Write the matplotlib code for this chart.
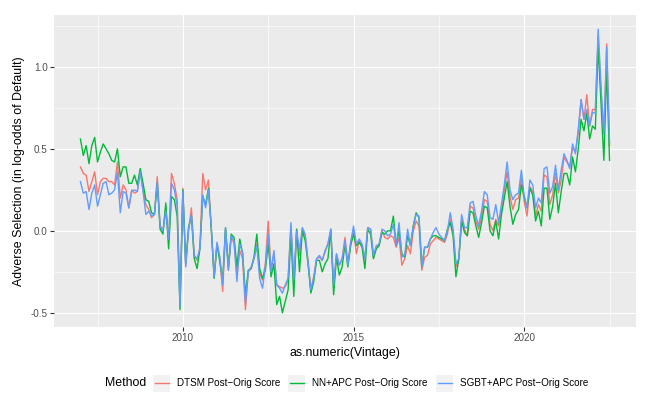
import matplotlib
matplotlib.use("Agg")
import matplotlib.pyplot as plt
from matplotlib.patches import Rectangle
from matplotlib.lines import Line2D
import numpy as np

plt.rcParams['font.family'] = ['Liberation Sans', 'DejaVu Sans']
plt.rcParams['axes.unicode_minus'] = False

start_year = 2007
methods = ["DTSM Post\u2212Orig Score", "NN+APC Post\u2212Orig Score", "SGBT+APC Post\u2212Orig Score"]
colors = ["#F8766D", "#00BA38", "#619CFF"]

dtsm = [
    0.39, 0.35, 0.34, 0.24, 0.30, 0.36, 0.22, 0.30, 0.32, 0.32, 0.30, 0.30,
    0.28, 0.42, 0.20, 0.28, 0.25, 0.14, 0.25, 0.23, 0.24, 0.37, 0.25, 0.16,
    0.13, 0.08, 0.10, 0.33, 0.03, 0.00, 0.14, -0.06, 0.35, 0.29, 0.19, -0.45,
    0.26, -0.21, 0.00, 0.14, -0.15, -0.18, -0.10, 0.35, 0.25, 0.31, 0.02, -0.28,
    -0.08, -0.17, -0.37, 0.01, -0.24, -0.03, -0.08, -0.27, -0.12, -0.17, -0.48, -0.25,
    -0.23, -0.17, -0.08, -0.26, -0.30, -0.20, 0.06, -0.24, -0.14, -0.33, -0.34, -0.35,
    -0.34, -0.30, 0.03, -0.33, 0.01, -0.15, 0.01, -0.03, -0.18, -0.36, -0.28, -0.17,
    -0.16, -0.18, -0.13, -0.08, 0.00, -0.34, -0.14, -0.21, -0.17, -0.04, -0.20, -0.07,
    0.00, -0.14, -0.06, -0.09, -0.17, 0.02, 0.01, -0.16, -0.10, -0.09, 0.00, -0.04,
    -0.05, -0.03, -0.04, -0.10, -0.04, -0.21, -0.17, -0.09, -0.14, 0.00, 0.06, 0.03,
    -0.24, -0.16, -0.15, -0.08, -0.06, -0.04, -0.05, -0.06, -0.07, -0.02, 0.07, -0.01,
    -0.22, -0.18, 0.07, 0.01, -0.03, 0.15, 0.14, 0.06, 0.01, 0.08, 0.19, 0.18,
    0.04, 0.00, 0.07, 0.03, 0.12, 0.25, 0.36, 0.21, 0.13, 0.19, 0.20, 0.32,
    0.18, 0.09, 0.27, 0.24, 0.09, 0.16, 0.12, 0.34, 0.33, 0.16, 0.22, 0.35,
    0.23, 0.31, 0.45, 0.42, 0.39, 0.51, 0.48, 0.60, 0.80, 0.68, 0.83, 0.64,
    0.74, 0.74, 1.19, 0.85, 0.59, 1.14, 0.52,
]

nn_apc = [
    0.56, 0.46, 0.52, 0.41, 0.52, 0.57, 0.42, 0.48, 0.53, 0.50, 0.47, 0.43,
    0.42, 0.50, 0.33, 0.39, 0.39, 0.29, 0.29, 0.34, 0.28, 0.38, 0.29, 0.19,
    0.18, 0.11, 0.10, 0.29, 0.01, -0.02, 0.17, -0.11, 0.21, 0.19, 0.09, -0.48,
    0.25, -0.20, 0.02, 0.09, -0.17, -0.23, -0.11, 0.21, 0.16, 0.26, 0.01, -0.29,
    -0.08, -0.19, -0.30, 0.02, -0.22, -0.02, -0.04, -0.22, -0.05, -0.14, -0.39, -0.24,
    -0.23, -0.16, -0.02, -0.23, -0.29, -0.24, -0.08, -0.28, -0.20, -0.45, -0.40, -0.50,
    -0.43, -0.36, -0.02, -0.40, 0.01, -0.25, 0.00, -0.06, -0.20, -0.38, -0.31, -0.18,
    -0.18, -0.25, -0.20, -0.17, 0.01, -0.39, -0.16, -0.27, -0.22, -0.08, -0.22, -0.09,
    -0.02, -0.09, -0.07, -0.10, -0.23, 0.01, -0.02, -0.17, -0.11, -0.09, -0.01, -0.02,
    0.00, 0.00, 0.09, -0.09, 0.00, -0.14, -0.16, -0.03, -0.09, 0.03, 0.11, 0.08,
    -0.22, -0.10, -0.10, -0.05, -0.03, -0.03, -0.04, -0.05, -0.06, 0.01, 0.05, -0.03,
    -0.28, -0.17, 0.06, -0.01, -0.03, 0.12, 0.11, 0.03, -0.04, 0.05, 0.15, 0.14,
    0.00, -0.03, 0.06, -0.05, 0.10, 0.20, 0.30, 0.15, 0.04, 0.10, 0.13, 0.28,
    0.21, 0.14, 0.26, 0.22, 0.06, 0.12, 0.03, 0.26, 0.26, 0.07, 0.15, 0.29,
    0.11, 0.24, 0.35, 0.35, 0.28, 0.45, 0.36, 0.50, 0.68, 0.61, 0.72, 0.56,
    0.64, 0.62, 1.13, 0.78, 0.43, 0.99, 0.43,
]

sgbt_apc = [
    0.30, 0.23, 0.24, 0.13, 0.23, 0.28, 0.15, 0.22, 0.29, 0.30, 0.22, 0.23,
    0.25, 0.36, 0.11, 0.24, 0.23, 0.14, 0.24, 0.25, 0.24, 0.36, 0.24, 0.10,
    0.12, 0.09, 0.10, 0.30, 0.03, 0.00, 0.12, -0.05, 0.29, 0.25, 0.15, -0.46,
    0.24, -0.22, 0.01, 0.10, -0.15, -0.17, -0.11, 0.22, 0.14, 0.25, 0.02, -0.28,
    -0.07, -0.16, -0.33, 0.02, -0.24, -0.03, -0.06, -0.31, -0.08, -0.13, -0.44, -0.25,
    -0.22, -0.17, -0.09, -0.29, -0.35, -0.22, -0.02, -0.25, -0.12, -0.33, -0.35, -0.38,
    -0.33, -0.29, 0.05, -0.30, 0.00, -0.12, 0.02, -0.02, -0.19, -0.36, -0.29, -0.17,
    -0.15, -0.18, -0.12, -0.08, 0.01, -0.33, -0.14, -0.21, -0.17, -0.06, -0.21, -0.07,
    0.03, -0.08, -0.05, -0.08, -0.17, 0.02, 0.01, -0.15, -0.09, -0.08, 0.01, 0.00,
    -0.03, -0.02, 0.04, -0.09, 0.05, -0.16, -0.15, 0.01, -0.09, 0.03, 0.10, 0.09,
    -0.22, -0.10, -0.10, -0.05, -0.01, 0.02, -0.02, -0.04, -0.06, 0.00, 0.11, 0.01,
    -0.20, -0.17, 0.10, 0.02, 0.02, 0.17, 0.18, 0.09, 0.03, 0.12, 0.24, 0.22,
    0.08, 0.07, 0.16, 0.05, 0.16, 0.28, 0.42, 0.25, 0.19, 0.22, 0.23, 0.37,
    0.21, 0.14, 0.31, 0.28, 0.14, 0.20, 0.17, 0.38, 0.39, 0.23, 0.27, 0.40,
    0.25, 0.37, 0.47, 0.43, 0.38, 0.53, 0.47, 0.62, 0.80, 0.68, 0.74, 0.64,
    0.72, 0.72, 1.23, 0.88, 0.59, 1.12, 0.54,
]

x_major = [2010, 2015, 2020]
y_major = [-0.5, 0.0, 0.5, 1.0]
y_labels = ["-0.5", "0.0", "0.5", "1.0"]

series = [dtsm, nn_apc, sgbt_apc]
n = len(dtsm)
vintage = start_year + np.arange(n) / 12.0

W, H = 649, 395
fig = plt.figure(figsize=(W / 100, H / 100), dpi=100)
fig.patch.set_facecolor("white")

TITLE_FS = 8.9
SMALL_FS = 7.1

pl, pr, pt, pb = 54, 636, 15, 327
ax = fig.add_axes([pl / W, 1 - pb / H, (pr - pl) / W, (pb - pt) / H])
ax.set_facecolor("#EBEBEB")
for s in ax.spines.values():
    s.set_visible(False)

for vals, c in zip(series, colors):
    ax.plot(vintage, vals, color=c, lw=1.0, solid_joinstyle="round")

allv = np.concatenate([np.array(s) for s in series])
ymin, ymax = allv.min(), allv.max()
yr = ymax - ymin
ax.set_ylim(ymin - 0.05 * yr, ymax + 0.05 * yr)
xr = vintage[-1] - vintage[0]
ax.set_xlim(vintage[0] - 0.05 * xr, vintage[-1] + 0.05 * xr)

ax.set_xticks(x_major)
ax.set_xticklabels([str(v) for v in x_major])
ax.set_yticks(y_major)
ax.set_yticklabels(y_labels)
ax.set_xticks([v - 2.5 for v in x_major] + [x_major[-1] + 2.5], minor=True)
ax.set_yticks([-0.25, 0.25, 0.75, 1.25], minor=True)
ax.grid(which="major", color="white", lw=0.8)
ax.grid(which="minor", color="white", lw=0.4)
ax.set_axisbelow(True)
ax.tick_params(which="major", length=2.65, width=0.8, color="#333333",
               labelcolor="#4D4D4D", labelsize=SMALL_FS, pad=2.0)
ax.tick_params(which="minor", length=0)

fig.text(19 / W, 1 - 171 / H, "Adverse Selection (in log-odds of Default)",
         rotation=90, ha="center", va="center", fontsize=TITLE_FS, color="black")
fig.text((pl + pr) / 2 / W, 1 - 353 / H, "as.numeric(Vintage)",
         ha="center", va="center", fontsize=TITLE_FS, color="black")

# legend
ly = 383
fig.text(105 / W, 1 - ly / H, "Method", ha="left", va="center", fontsize=TITLE_FS)
key_x = [153, 288, 436]
txt_x = [177, 312, 460]
for kx, tx, lab, c in zip(key_x, txt_x, methods, colors):
    fig.add_artist(Rectangle((kx / W, 1 - (ly + 8.5) / H), 17 / W, 17 / H,
                             transform=fig.transFigure, facecolor="#F2F2F2",
                             edgecolor="none"))
    fig.add_artist(Line2D([(kx + 1.5) / W, (kx + 15.5) / W], [1 - ly / H, 1 - ly / H],
                          transform=fig.transFigure, color=c, lw=1.0))
    fig.text(tx / W, 1 - ly / H, lab, ha="left", va="center", fontsize=SMALL_FS)

fig.savefig("out.png", dpi=100)
